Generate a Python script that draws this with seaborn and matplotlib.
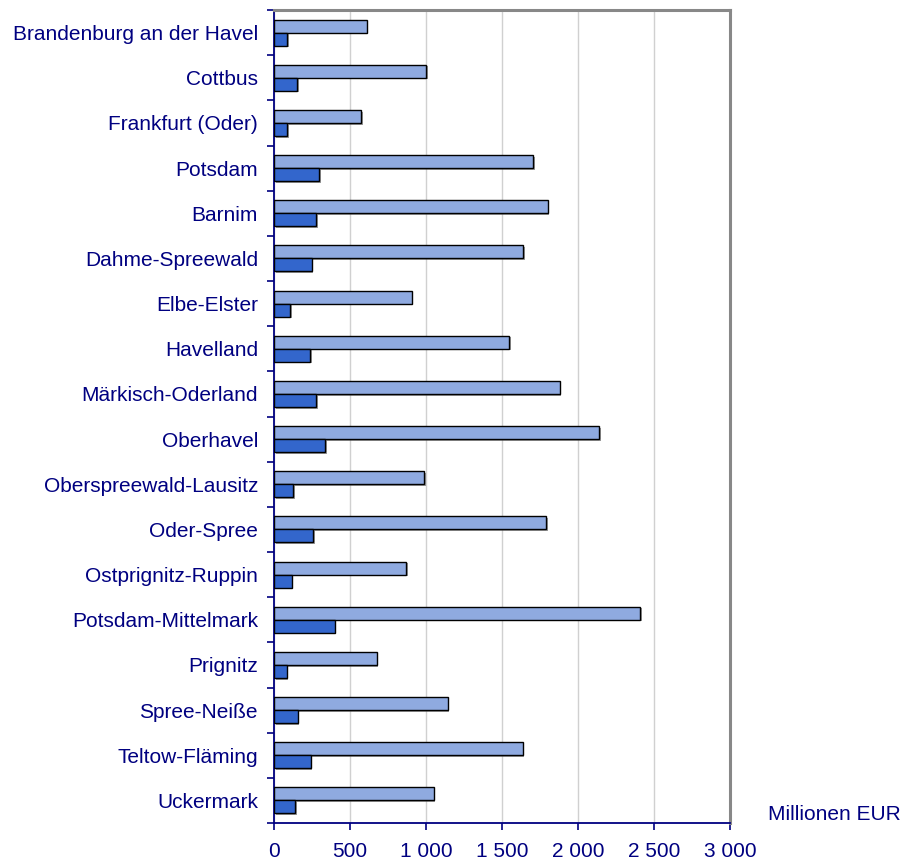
import matplotlib
matplotlib.use("Agg")
import matplotlib.pyplot as plt
import matplotlib.patheffects as pe
from matplotlib.ticker import FixedLocator
import seaborn as sns
import pandas as pd
import numpy as np

regions = ["Brandenburg an der Havel", "Cottbus", "Frankfurt (Oder)", "Potsdam",
           "Barnim", "Dahme-Spreewald", "Elbe-Elster", "Havelland",
           "Märkisch-Oderland", "Oberhavel", "Oberspreewald-Lausitz", "Oder-Spree",
           "Ostprignitz-Ruppin", "Potsdam-Mittelmark", "Prignitz", "Spree-Neiße",
           "Teltow-Fläming", "Uckermark"]
series_light = [610, 1000, 575, 1706, 1800, 1640, 906, 1546, 1880, 2138, 989, 1789,
                868, 2408, 676, 1143, 1636, 1050]
series_dark = [85, 153, 85, 298, 276, 248, 107, 237, 278, 338, 127, 259,
               116, 399, 83, 156, 241, 140]
series_names = ["A", "B"]
xticks = [0, 500, 1000, 1500, 2000, 2500, 3000]
xticklabels = ["0", "500", "1 000", "1 500", "2 000", "2 500", "3 000"]
unit_label = "Millionen EUR"

df = pd.DataFrame({
    "region": regions * 2,
    "value": series_light + series_dark,
    "series": [series_names[0]] * len(regions) + [series_names[1]] * len(regions),
})

sns.set_style("white")
plt.rcParams["font.family"] = ["Liberation Sans", "DejaVu Sans"]
navy = "#000080"
fs = 15

fig = plt.figure(figsize=(9.05, 8.65), dpi=100)
ax = fig.add_axes([274 / 905, 1 - 823 / 865, (730 - 274) / 905, (823 - 10) / 865])

sns.barplot(data=df, x="value", y="region", hue="series", orient="h",
            palette=["#8FAAE0", "#3366CC"], width=0.575, dodge=True,
            edgecolor="black", linewidth=1.0, saturation=1, ax=ax, legend=False,
            zorder=3)

for p in ax.patches:
    p.set_path_effects([pe.SimplePatchShadow(offset=(1.2, -1.2), shadow_rgbFace="#555555", alpha=0.6),
                        pe.Normal()])

ax.set_xlim(0, 3000)
ax.set_ylim(len(regions) - 0.5, -0.5)
ax.xaxis.set_major_locator(FixedLocator(xticks))
ax.set_xticklabels(xticklabels)
ax.grid(axis="x", color="#d0d0d0", linewidth=1.0, zorder=0)
ax.set_axisbelow(True)
ax.set_xlabel("")
ax.set_ylabel("")

# y ticks: labels at centers, tick marks at category boundaries
ax.tick_params(axis="y", which="major", left=True, length=0, pad=11.5, labelsize=fs,
               labelcolor=navy)
ax.yaxis.set_minor_locator(FixedLocator(np.arange(-0.5, len(regions), 1.0)))
ax.tick_params(axis="y", which="minor", left=True, length=5, width=1.2, color=navy,
               direction="out")
ax.tick_params(axis="x", which="major", bottom=True, length=5, width=1.2, color=navy,
               direction="out", labelsize=fs, labelcolor=navy, pad=9)

for s in ["left", "bottom"]:
    ax.spines[s].set_color(navy)
    ax.spines[s].set_linewidth(1.3)
for s in ["top", "right"]:
    ax.spines[s].set_color("#888888")
    ax.spines[s].set_linewidth(2.2)
for s in ax.spines.values():
    s.set_visible(True)

fig.text(834 / 905, 1 - 815 / 865, unit_label, ha="center", va="center",
         fontsize=fs, color=navy)

fig.savefig("out.png", dpi=100, facecolor="white")
